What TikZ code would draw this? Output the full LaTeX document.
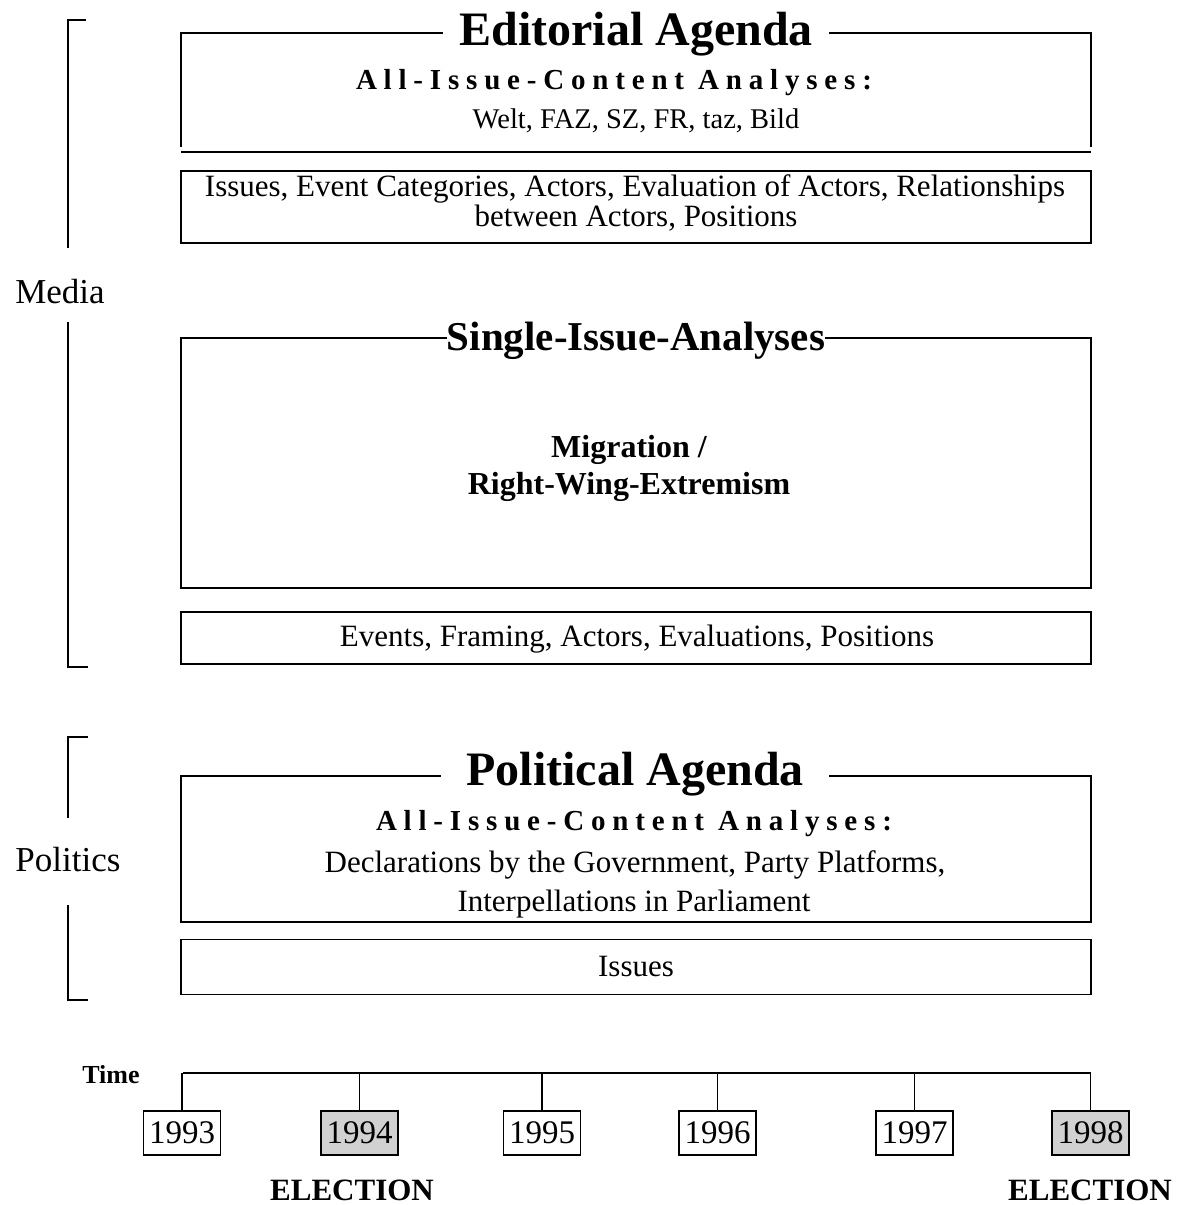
\documentclass[tikz,border=0pt]{standalone}
\usepackage{fontspec}
\setmainfont{Liberation Serif}
\usepackage{tikz}
\tikzset{
  brk/.style={draw, line width=1.8pt},
  panel/.style={draw, line width=1.8pt, minimum width=910pt, inner sep=0pt},
  ttl/.style={fill=white, font=\fontsize{48}{54}\selectfont\bfseries, inner ysep=1pt, anchor=base},
  txt/.style={font=\fontsize{31}{36}\selectfont, anchor=base, inner sep=0pt},
  spaced/.style={font=\fontsize{29}{32}\selectfont\bfseries\addfontfeature{LetterSpace=23.5}, anchor=base, inner sep=0pt},
  mig/.style={font=\fontsize{32}{36}\selectfont\bfseries, anchor=base, inner sep=0pt},
  sidelab/.style={font=\fontsize{35}{40}\selectfont, inner sep=0pt},
  yearbox/.style={draw, line width=1.8pt, minimum width=77pt, minimum height=44pt, inner sep=0pt, font=\fontsize{33}{36}\selectfont},
  elect/.style={yearbox, fill=black!18},
  vote/.style={font=\fontsize{31}{36}\selectfont\bfseries, anchor=base, inner sep=0pt},
  tick/.style={draw, line width=1.8pt}
}

\begin{document}
\begin{tikzpicture}[x=1pt, y=-1pt]
  \useasboundingbox[fill=white] (0,0) rectangle (1181,1205);

  % media side
  \draw[brk] (68,248) |- (86,20);
  \draw[brk] (68,322) |- (88,667);
  \node[sidelab] (media) at (60,292) {Media};

  \node[minimum width=910pt, minimum height=114pt, inner sep=0pt] (edit) at (636,90) {};
  \draw[brk] (edit.south west) |- (edit.north east) -- (edit.south east);
  \draw[brk] ([yshift=-5pt]edit.south west) -- ([yshift=-5pt]edit.south east);
  \node[ttl, inner xsep=16pt] (edittitle) at (636,45) {Editorial Agenda};
  \node[spaced] (editall) at (614,89) {All-Issue-Content Analyses:};
  \node[txt, font=\fontsize{28.5}{32}\selectfont] (papers) at (636,128) {Welt, FAZ, SZ, FR, taz, Bild};

  \node[panel, minimum height=72pt] (editvars) at (636,207) {};
  \node[txt] at (635,196) {Issues, Event Categories, Actors, Evaluation of Actors, Relationships};
  \node[txt] at (636,226) {between Actors, Positions};

  \node[panel, minimum height=250pt] (single) at (636,463) {};
  \node[ttl, inner xsep=0pt, font=\fontsize{41}{46}\selectfont\bfseries] (singletitle) at (636,350) {Single-Issue-Analyses};
  \node[mig] (migr) at (629,457) {Migration /};
  \node[mig] (rwe) at (629,494) {Right-Wing-Extremism};

  \node[panel, minimum height=52pt] (singlevars) at (636,638) {};
  \node[txt] at (637,646) {Events, Framing, Actors, Evaluations, Positions};

  % politics side
  \draw[brk] (68,818) |- (88,737);
  \draw[brk] (68,905) |- (88,1000);
  \node[sidelab] (politics) at (68,860) {Politics};

  \node[panel, minimum height=146pt] (pol) at (636,849) {};
  \node[ttl, inner xsep=25pt] (poltitle) at (635,785) {Political Agenda};
  \node[spaced] (polall) at (634,830) {All-Issue-Content Analyses:};
  \node[txt] at (635,872) {Declarations by the Government, Party Platforms,};
  \node[txt] at (634,911) {Interpellations in Parliament};

  \node[panel, minimum height=55pt] (polvars) at (636,967) {};
  \node[txt] at (636,976) {Issues};

  % time line
  \coordinate (t0) at (183,1073);
  \coordinate (t1) at (1091,1073);
  \draw[tick] (t0) -- (t1);
  \node[font=\fontsize{26}{30}\selectfont\bfseries, anchor=base, inner sep=0pt] (time) at (111,1083) {Time};

  \node[yearbox] (y1993) at (182,1133) {1993};
  \node[elect] (y1994) at (359.5,1133) {1994};
  \node[yearbox] (y1995) at (542,1133) {1995};
  \node[yearbox] (y1996) at (717.5,1133) {1996};
  \node[yearbox] (y1997) at (914.5,1133) {1997};
  \node[elect] (y1998) at (1090.5,1133) {1998};

  \draw[tick] (y1993.north) -- (y1993.north |- t0);
  \draw[tick] (y1994.north) -- (y1994.north |- t0);
  \draw[tick] (y1995.north) -- (y1995.north |- t0);
  \draw[tick] (y1996.north) -- (y1996.north |- t0);
  \draw[tick] (y1997.north) -- (y1997.north |- t0);
  \draw[tick] (y1998.north) -- (y1998.north |- t0);

  \node[vote] at (352,1200) {ELECTION};
  \node[vote] at (1090,1200) {ELECTION};
\end{tikzpicture}
\end{document}
